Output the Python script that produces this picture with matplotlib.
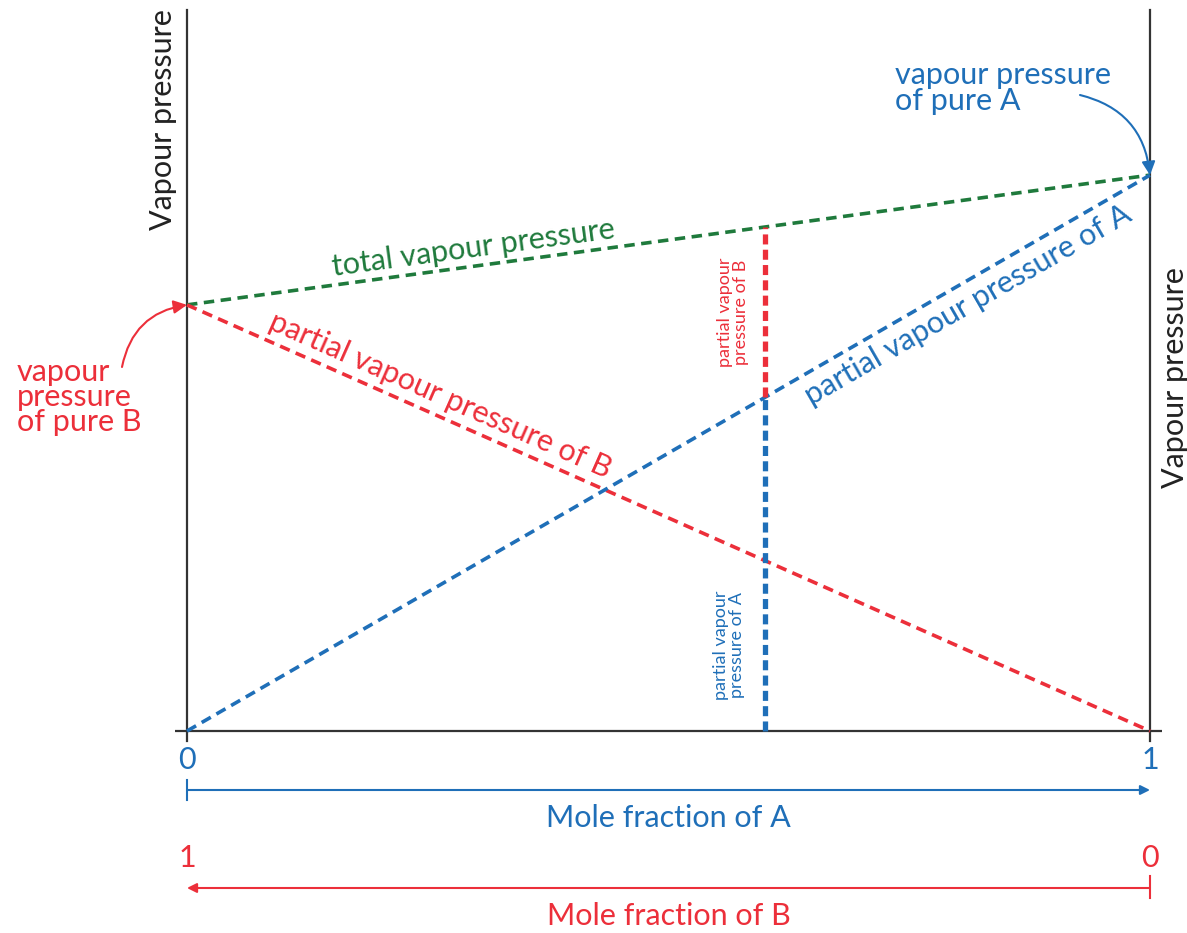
import numpy as np
import matplotlib
matplotlib.use("Agg")
import matplotlib.pyplot as plt

# ---- data ----
mole_fraction_A = [0.0, 1.0]
p_pure_A = 0.771          # vapour pressure of pure A (relative units)
p_pure_B = 0.591          # vapour pressure of pure B
x_marker = 0.60           # composition where partial pressures are shown
partial_A = [0.0, p_pure_A]
partial_B = [p_pure_B, 0.0]
total = [p_pure_B, p_pure_A]
ticks_A = ["0", "1"]
ticks_B = ["1", "0"]

GREEN = "#1f7a3c"
RED = "#ec2f3a"
BLUE = "#1f6fb8"
FONT = "Lato"
FS = 22

plt.rcParams['font.family'] = [FONT, 'DejaVu Sans']

W, H = 1187, 933
fig = plt.figure(figsize=(W / 100, H / 100), dpi=100)
ax = fig.add_axes([187 / W, (H - 731) / H, (1150 - 187) / W, (731 - 10) / H])
ax.set_xlim(0, 1)
ax.set_ylim(0, 1)
ax.axis('off')

px = 1 / 963.0   # data x per pixel
py = 1 / 721.0   # data y per pixel

# axes frame lines
ax.plot([-12 * px, 1 + 12 * px], [0, 0], color="#333333", lw=1.6, clip_on=False, solid_capstyle='butt')
ax.plot([0, 0], [-10 * py, 1], color="#333333", lw=1.6, clip_on=False)
ax.plot([1, 1], [-10 * py, 1], color="#333333", lw=1.6, clip_on=False)

thin = dict(lw=2.6, linestyle=(0, (2.9, 1.8)), clip_on=False, dash_capstyle='butt')
ax.plot(mole_fraction_A, total, color=GREEN, **thin)
ax.plot(mole_fraction_A, partial_B, color=RED, **thin)
ax.plot(mole_fraction_A, partial_A, color=BLUE, **thin)

pa_x = np.interp(x_marker, mole_fraction_A, partial_A)
pb_x = np.interp(x_marker, mole_fraction_A, partial_B)
pt_x = np.interp(x_marker, mole_fraction_A, total)
thick = dict(lw=3.8, linestyle=(0, (1.9, 1.0)), clip_on=False, dash_capstyle='butt')
ax.plot([x_marker, x_marker], [0, pa_x], color=BLUE, **thick)
ax.plot([x_marker, x_marker], [pa_x, pa_x + pb_x], color=RED, **thick)

fig.canvas.draw()
def angle(xs, ys):
    p = ax.transData.transform(np.column_stack([xs, ys]))
    d = p[1] - p[0]
    return np.degrees(np.arctan2(d[1], d[0]))

def line_label(text, xs, ys, xv, off, color, va):
    a = angle(xs, ys)
    r = np.radians(a)
    nx, ny = -np.sin(r) * off, np.cos(r) * off
    ax.annotate(text, xy=(xv, np.interp(xv, xs, ys)), xytext=(nx, ny), textcoords='offset points',
                rotation=a, rotation_mode='anchor', ha='center', va=va, color=color,
                fontsize=FS, annotation_clip=False)

line_label("total vapour pressure", mole_fraction_A, total, 0.30, 3, GREEN, 'bottom')
line_label("partial vapour pressure of B", mole_fraction_A, partial_B, 0.255, 4, RED, 'bottom')
line_label("partial vapour pressure of A", mole_fraction_A, partial_A, 0.80, -5, BLUE, 'top')

# small vertical labels
ax.text(x_marker - 32 * px, pa_x + (pt_x - pa_x) * 0.5, "partial vapour\npressure of B", rotation=90,
        ha='center', va='center', color=RED, fontsize=13, linespacing=1.0, multialignment='center')
ax.text(x_marker - 36 * px, (731 - 645) * py, "partial vapour\npressure of A", rotation=90,
        ha='center', va='center', color=BLUE, fontsize=13, linespacing=1.0, multialignment='center')

# pure component labels with curved arrows
ax.text((17 - 187) * px, (731 - 397) * py, "vapour\npressure\nof pure B", ha='left', va='center',
        color=RED, fontsize=FS, linespacing=0.88, clip_on=False)
ax.annotate("", xy=(0, p_pure_B), xytext=(-65 * px, (731 - 367) * py),
            arrowprops=dict(arrowstyle='-|>', color=RED, lw=1.5, mutation_scale=20,
                            connectionstyle='arc3,rad=-0.35', shrinkA=0, shrinkB=0),
            annotation_clip=False)
ax.text((895 - 187) * px, (731 - 88) * py, "vapour pressure\nof pure A", ha='left', va='center',
        color=BLUE, fontsize=FS, linespacing=0.88)
ax.annotate("", xy=(1, p_pure_A), xytext=(1 - 70 * px, (731 - 95) * py),
            arrowprops=dict(arrowstyle='-|>', color=BLUE, lw=1.5, mutation_scale=20,
                            connectionstyle='arc3,rad=-0.35', shrinkA=0, shrinkB=0),
            annotation_clip=False)

# y labels
ax.text(-24 * px, (731 - 120) * py, "Vapour pressure", rotation=90, ha='center', va='center',
        color="#222222", fontsize=FS)
ax.text(1 + 25 * px, (731 - 378) * py, "Vapour pressure", rotation=90, ha='center', va='center',
        color="#222222", fontsize=FS)

# x-axis scales
for xv, t in zip(mole_fraction_A, ticks_A):
    ax.text(xv, (731 - 760) * py, t, ha='center', va='center', color=BLUE, fontsize=FS)
for xv, t in zip(mole_fraction_A, ticks_B):
    ax.text(xv, (731 - 858) * py, t, ha='center', va='center', color=RED, fontsize=FS)

yA = (731 - 790) * py
ax.annotate("", xy=(1, yA), xytext=(0, yA),
            arrowprops=dict(arrowstyle='-|>', color=BLUE, lw=1.5, mutation_scale=14, shrinkA=0, shrinkB=0),
            annotation_clip=False)
ax.plot([0, 0], [yA - 10 * py, yA + 10 * py], color=BLUE, lw=1.5, clip_on=False)
ax.text(0.5, (731 - 818) * py, "Mole fraction of A", ha='center', va='center', color=BLUE, fontsize=FS)

yB = (731 - 888) * py
ax.annotate("", xy=(0, yB), xytext=(1, yB),
            arrowprops=dict(arrowstyle='-|>', color=RED, lw=1.5, mutation_scale=14, shrinkA=0, shrinkB=0),
            annotation_clip=False)
ax.plot([1, 1], [yB - 10 * py, yB + 12 * py], color=RED, lw=1.5, clip_on=False)
ax.text(0.5, (731 - 916) * py, "Mole fraction of B", ha='center', va='center', color=RED, fontsize=FS)

fig.savefig("out.png", dpi=100)
